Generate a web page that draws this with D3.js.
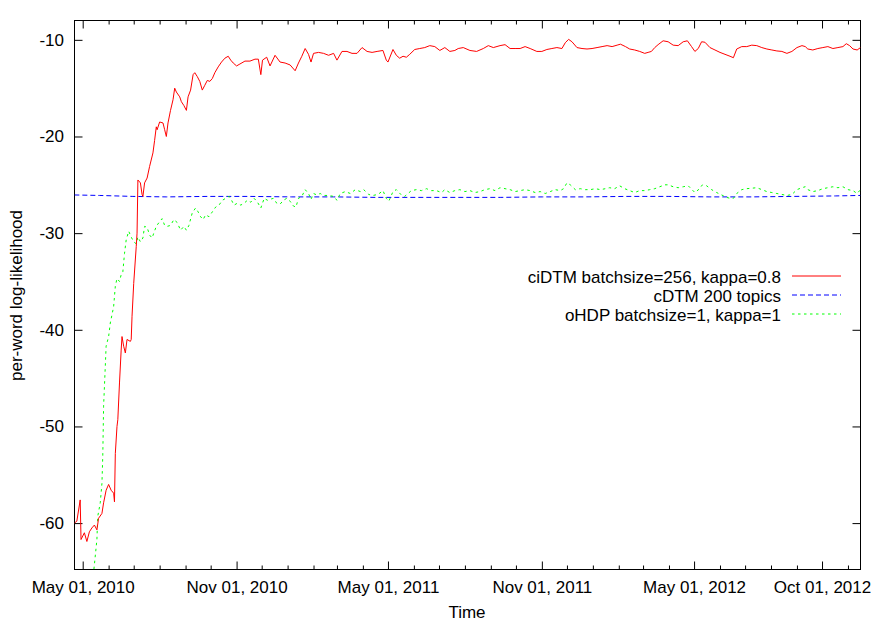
<!DOCTYPE html>
<html><head><meta charset="utf-8">
<script src="https://cdn.jsdelivr.net/npm/d3@7"></script>
<style>
body{margin:0;background:#fff}
text{font-family:"Liberation Sans",Arial,Helvetica,sans-serif;}
</style>
</head><body>
<svg id="c" width="894" height="626"></svg>
<script>
// ---------------- data ----------------
const yTickValues = [-10, -20, -30, -40, -50, -60];
const xMajorTickDates = ["2010-05-01", "2010-11-01", "2011-05-01", "2011-11-01", "2012-05-01", "2012-10-01"];
const xTickLabels = ["May 01, 2010", "Nov 01, 2010", "May 01, 2011", "Nov 01, 2011", "May 01, 2012", "Oct 01, 2012"];
const seriesNames = ["ciDTM batchsize=256, kappa=0.8", "cDTM 200 topics", "oHDP batchsize=1, kappa=1"];
const xTitle = "Time";
const yTitle = "per-word log-likelihood";

// [days since 2010-05-01, per-word log-likelihood]
const ciDTM = [
[-10,-60.0],[-7,-59.8],[-3,-57.6],[-2,-61.7],[2,-61.0],[5,-61.9],[8,-60.9],[11,-60.5],[14,-60.2],[17,-60.7],
[19,-59.5],[23,-59.0],[25,-57.9],[28,-56.6],[31,-56.0],[34,-56.6],[37,-56.9],[38,-57.8],[39,-52.8],[41,-50.0],
[42,-49.3],[44,-45.5],[46,-42.1],[47,-40.7],[49,-41.7],[51,-42.4],[53,-41.0],[57,-41.2],[58,-41.0],[59,-38.6],
[61,-35.2],[64,-31.4],[65,-30.0],[66,-24.5],[69,-24.8],[71,-26.0],[72,-26.2],[74,-24.8],[77,-24.3],[80,-23.1],
[84,-21.7],[86,-20.4],[88,-19.0],[89,-19.3],[92,-18.5],[96,-18.6],[98,-19.3],[100,-20.0],[102,-18.6],[105,-17.3],
[108,-16.2],[110,-15.0],[112,-15.4],[116,-15.9],[118,-16.4],[121,-16.8],[124,-17.3],[126,-15.9],[129,-15.2],[132,-13.6],
[134,-13.4],[137,-13.8],[140,-14.3],[143,-15.2],[146,-14.7],[149,-14.2],[152,-14.3],[155,-14.0],[158,-13.4],[162,-12.8],
[166,-12.3],[170,-11.9],[174,-11.7],[177,-12.1],[180,-12.4],[184,-12.7],[188,-12.5],[194,-12.2],[200,-12.2],[206,-12.0],
[210,-12.0],[213,-13.6],[215,-12.1],[220,-11.8],[224,-12.7],[230,-11.6],[236,-12.3],[242,-12.4],[248,-12.6],[254,-13.2],
[258,-12.4],[262,-11.7],[266,-10.9],[270,-11.5],[273,-12.3],[276,-11.4],[282,-11.3],[288,-11.4],[294,-11.6],[300,-11.4],
[304,-12.1],[310,-11.2],[316,-11.2],[322,-11.4],[328,-11.4],[334,-10.8],[340,-11.2],[346,-11.3],[352,-11.2],[359,-11.1],
[363,-12.1],[365,-12.3],[371,-11.0],[375,-11.6],[379,-11.9],[383,-11.7],[387,-11.8],[391,-11.5],[397,-11.0],[403,-10.9],
[409,-10.8],[415,-10.6],[421,-10.7],[427,-11.1],[433,-10.8],[439,-11.2],[445,-11.1],[449,-10.9],[455,-10.8],[463,-11.1],
[471,-11.2],[479,-10.9],[485,-10.6],[491,-10.8],[499,-10.6],[505,-10.5],[511,-10.9],[517,-10.9],[523,-10.9],[529,-10.7],
[535,-10.9],[543,-11.2],[549,-11.2],[555,-11.0],[561,-10.9],[567,-10.8],[573,-10.9],[577,-10.3],[581,-9.95],[585,-10.2],
[591,-10.8],[597,-10.9],[603,-10.95],[609,-10.9],[615,-10.8],[621,-10.7],[627,-10.6],[633,-10.7],[639,-10.55],[643,-10.45],
[649,-10.7],[654,-10.95],[660,-11.05],[666,-11.2],[672,-11.4],[676,-11.3],[680,-11.2],[684,-10.8],[688,-10.5],[694,-10.1],
[700,-10.2],[706,-10.55],[712,-10.6],[718,-10.2],[723,-10.1],[728,-10.7],[732,-11.2],[736,-10.9],[740,-10.2],[744,-10.25],
[750,-10.8],[756,-11.05],[762,-11.3],[768,-11.5],[774,-11.7],[778,-11.85],[782,-10.95],[788,-10.7],[794,-10.7],[800,-10.55],
[806,-10.6],[812,-10.8],[818,-10.95],[824,-11.05],[830,-11.15],[836,-11.2],[842,-11.4],[848,-11.2],[854,-10.8],[860,-10.6],
[864,-10.7],[867,-10.95],[873,-11.05],[879,-10.9],[885,-10.8],[891,-10.7],[897,-10.9],[903,-10.8],[909,-10.7],[913,-10.4],
[917,-10.6],[921,-10.95],[926,-11.05],[930,-10.8]
];

const cDTM = [
[-10,-26.05],[20,-26.1],[60,-26.2],[100,-26.25],[150,-26.2],[200,-26.2],[250,-26.25],[300,-26.25],[350,-26.3],
[400,-26.3],[450,-26.3],[500,-26.3],[550,-26.25],[600,-26.25],[650,-26.2],[700,-26.2],[750,-26.25],[800,-26.25],
[850,-26.2],[900,-26.15],[930,-26.1]
];

const oHDP = [
[12,-66.0],[17,-61.7],[18,-59.3],[21,-57.9],[23,-55.9],[24,-53.1],[25,-47.9],[27,-43.8],[28,-41.7],[31,-40.7],
[33,-39.3],[37,-37.6],[39,-35.5],[41,-34.7],[44,-35.0],[46,-34.3],[48,-34.0],[50,-32.1],[52,-30.7],[53,-30.4],
[55,-29.8],[58,-30.4],[61,-30.9],[64,-31.1],[66,-30.4],[69,-30.9],[72,-30.5],[74,-29.3],[77,-29.4],[80,-30.2],
[83,-30.5],[85,-30.0],[88,-29.3],[92,-28.8],[95,-28.5],[98,-29.2],[101,-29.3],[105,-29.2],[109,-28.6],[113,-28.9],
[117,-29.7],[121,-29.3],[124,-29.7],[127,-29.2],[131,-27.9],[135,-27.4],[138,-27.8],[141,-28.3],[144,-28.6],[147,-28.1],
[151,-28.3],[155,-27.8],[159,-27.3],[163,-27.1],[167,-26.6],[171,-26.4],[175,-26.2],[178,-26.6],[181,-27.1],[185,-26.9],
[189,-27.1],[193,-26.9],[197,-26.6],[201,-26.8],[205,-26.4],[209,-26.8],[213,-27.4],[217,-26.4],[221,-26.6],[224,-26.5],
[228,-26.4],[232,-26.9],[236,-27.0],[240,-26.6],[244,-26.4],[248,-26.7],[252,-27.2],[255,-27.3],[258,-26.4],[262,-26.2],
[266,-25.5],[270,-25.9],[273,-26.5],[276,-25.9],[280,-26.05],[284,-25.9],[288,-26.1],[294,-26.1],[300,-26.2],[304,-26.6],
[308,-25.9],[314,-25.7],[320,-25.9],[326,-25.5],[332,-25.7],[336,-25.5],[342,-26.0],[347,-26.1],[353,-26.0],[359,-25.6],
[363,-26.4],[366,-26.7],[371,-25.7],[375,-25.5],[381,-26.05],[385,-26.2],[389,-25.9],[393,-25.6],[399,-25.5],[405,-25.6],
[411,-25.4],[417,-25.6],[423,-25.6],[429,-25.8],[433,-25.5],[439,-25.8],[445,-25.6],[451,-25.5],[457,-25.7],[463,-25.6],
[469,-25.8],[475,-25.7],[481,-25.5],[487,-25.4],[493,-25.6],[499,-25.3],[505,-25.4],[511,-25.5],[517,-25.7],[523,-25.6],
[529,-25.5],[535,-25.6],[541,-25.8],[547,-25.7],[553,-25.9],[559,-25.7],[565,-25.5],[571,-25.6],[575,-25.4],[579,-24.8],
[583,-25.0],[589,-25.5],[595,-25.4],[601,-25.5],[607,-25.5],[613,-25.4],[619,-25.5],[625,-25.4],[630,-25.3],[636,-25.4],
[642,-25.1],[648,-25.4],[654,-25.6],[660,-25.8],[666,-25.6],[672,-25.6],[678,-25.5],[684,-25.4],[690,-25.2],[696,-25.0],
[700,-25.0],[706,-25.2],[712,-25.3],[718,-25.2],[724,-25.1],[728,-25.45],[732,-25.8],[737,-25.45],[741,-25.0],[746,-25.1],
[752,-25.5],[758,-25.8],[764,-26.05],[770,-26.3],[774,-26.4],[778,-26.4],[782,-25.9],[788,-25.5],[794,-25.4],[800,-25.35],
[806,-25.3],[812,-25.5],[818,-25.7],[824,-25.8],[830,-25.9],[836,-26.0],[842,-26.1],[848,-26.0],[854,-25.5],[860,-25.3],
[864,-25.2],[867,-25.5],[873,-25.7],[879,-25.6],[885,-25.4],[891,-25.3],[897,-25.2],[903,-25.3],[909,-25.2],[915,-25.5],
[921,-25.6],[926,-25.9],[930,-25.5]
];

// ---------------- drawing ----------------
const base = Date.UTC(2010, 4, 1);
const toDate = d => new Date(base + d * 864e5);
const L = 74.5, R = 860.5, T = 20.5, B = 569.5;
const FONT = 17;

const x = d3.scaleUtc().domain([toDate(-9.8), toDate(930)]).range([L, R]);
const y = d3.scaleLinear().domain([-64.8, -8]).range([B, T]);

const svg = d3.select("#c");
svg.append("rect").attr("width", 894).attr("height", 626).attr("fill", "#fff");

svg.append("defs").append("clipPath").attr("id", "clip")
  .append("rect").attr("x", L).attr("y", T).attr("width", R - L).attr("height", B - T);

const majors = xMajorTickDates.map(s => new Date(s + "T00:00:00Z"));
const majorSet = new Set(majors.map(d => +d));
const minors = d3.utcMonth.range(x.domain()[0], x.domain()[1]).filter(d => !majorSet.has(+d));

function styleAxis(g) {
  g.select(".domain").remove();
  g.selectAll("line").attr("stroke", "#000").attr("stroke-width", 1);
  g.selectAll("text").attr("fill", "#000").style("font-size", FONT + "px")
    .style("font-family", '"Liberation Sans",Arial,Helvetica,sans-serif');
}

// bottom major
svg.append("g").attr("transform", `translate(0,${B})`)
  .call(d3.axisBottom(x).tickValues(majors).tickSize(-8).tickPadding(11.4)
    .tickFormat((d, i) => xTickLabels[i]))
  .call(styleAxis);
// bottom minor
svg.append("g").attr("transform", `translate(0,${B})`)
  .call(d3.axisBottom(x).tickValues(minors).tickSize(-4).tickFormat(""))
  .call(styleAxis);
// top major / minor
svg.append("g").attr("transform", `translate(0,${T})`)
  .call(d3.axisTop(x).tickValues(majors).tickSize(-8).tickFormat(""))
  .call(styleAxis);
svg.append("g").attr("transform", `translate(0,${T})`)
  .call(d3.axisTop(x).tickValues(minors).tickSize(-4).tickFormat(""))
  .call(styleAxis);
// left / right
svg.append("g").attr("transform", `translate(${L},0)`)
  .call(d3.axisLeft(y).tickValues(yTickValues).tickSize(-8).tickPadding(10.5)
    .tickFormat(d3.format("d")))
  .call(styleAxis);
svg.append("g").attr("transform", `translate(${R},0)`)
  .call(d3.axisRight(y).tickValues(yTickValues).tickSize(-8).tickFormat(""))
  .call(styleAxis);

// plain hyphen for negative numbers, as in the reference
svg.selectAll("text").each(function () {
  const t = d3.select(this); t.text(t.text().replace("\u2212", "-"));
});

// frame
svg.append("rect").attr("x", L).attr("y", T).attr("width", R - L).attr("height", B - T)
  .attr("fill", "none").attr("stroke", "#000").attr("stroke-width", 1);

// lines
const line = d3.line().x(d => x(toDate(d[0]))).y(d => y(d[1]));
const styles = [
  {data: ciDTM, color: "#ff0000", dash: null},
  {data: cDTM, color: "#0000ff", dash: "5,3"},
  {data: oHDP, color: "#00ff00", dash: "2.5,3.5"}
];
const gl = svg.append("g").attr("clip-path", "url(#clip)");
[1, 2, 0].forEach(i => {
  const s = styles[i];
  gl.append("path").datum(s.data).attr("d", line)
    .attr("fill", "none").attr("stroke", s.color).attr("stroke-width", 1)
    .attr("stroke-dasharray", s.dash);
});

// axis titles
svg.append("text").attr("x", 467).attr("y", 618).attr("text-anchor", "middle")
  .style("font-size", FONT + "px").text(xTitle);
svg.append("text").attr("transform", "translate(22,295.5) rotate(-90)").attr("text-anchor", "middle")
  .style("font-size", FONT + "px").text(yTitle);

// legend
const legendRows = [276, 295, 314];
seriesNames.forEach((name, i) => {
  const cy = legendRows[i];
  svg.append("text").attr("x", 781).attr("y", cy + 6.5).attr("text-anchor", "end")
    .style("font-size", FONT + "px").text(name);
  svg.append("line").attr("x1", 792).attr("x2", 841).attr("y1", cy).attr("y2", cy)
    .attr("stroke", styles[i].color).attr("stroke-width", 1)
    .attr("stroke-dasharray", styles[i].dash);
});
</script>
</body></html>
